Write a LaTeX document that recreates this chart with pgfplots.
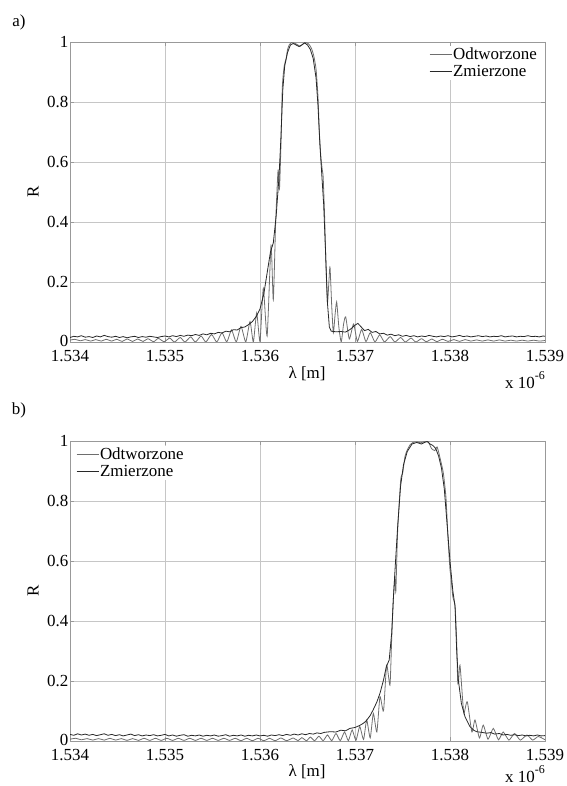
\documentclass[border=0pt]{standalone}
\usepackage{fontspec}
\setmainfont{Liberation Serif}
\usepackage{pgfplots}
\pgfplotsset{compat=1.18}
\definecolor{rec}{RGB}{110,110,110}
\definecolor{mea}{RGB}{40,40,40}
\newcommand{\fs}{\fontsize{17}{20}\selectfont}
\pgfplotsset{
  mystyle/.style={
    scale only axis, width=475bp, height=300bp, anchor=south west,
    xmin=1534, xmax=1539, ymin=0, ymax=1,
    xtick={1534,1535,1536,1537,1538,1539},
    xticklabels={1.534,1.535,1.536,1.537,1.538,1.539},
    ytick={0,0.2,0.4,0.6,0.8,1},
    yticklabels={\raisebox{1bp}[\height][0pt]{0},0.2,0.4,0.6,0.8,1},
    grid=major, major grid style={gray!45, line width=0.6bp},
    axis line style={gray!80, line width=0.7bp},
    tick style={gray!80}, tick align=inside, major tick length=4bp,
    tick label style={font=\fs, text=black},
    yticklabel style={inner xsep=1.5bp, inner ysep=0bp},
    xticklabel style={inner ysep=0bp, yshift=-8bp},
    legend cell align=left,
    legend image code/.code={\draw[#1] (0bp,0bp) -- (22bp,0bp);},
    every axis plot/.append style={line width=0.8bp},
  }
}
\begin{document}
\begin{tikzpicture}
\useasboundingbox (0,0) rectangle (567bp,786bp);
\begin{axis}[mystyle, at={(70bp,444bp)},
  legend style={at={(1,1)}, anchor=north east, xshift=-6bp, yshift=-4bp, draw=none, fill=white, font=\fs, inner sep=1bp, row sep=2bp,
    /tikz/every even column/.append style={column sep=0bp}, nodes={inner xsep=1bp, inner ysep=1bp}}]
\addplot[rec, smooth, tension=0.35] coordinates {
(1534.00,0.006)(1534.05,0.009)(1534.11,0.004)(1534.16,0.008)(1534.22,0.003)(1534.27,0.008)(1534.33,0.003)(1534.38,0.009)
(1534.44,0.003)(1534.49,0.009)(1534.55,0.002)(1534.60,0.010)(1534.66,0.002)(1534.71,0.010)(1534.77,0.002)(1534.82,0.011)
(1534.88,0.001)(1534.93,0.012)(1534.99,0.001)(1535.05,0.013)(1535.10,0.000)(1535.16,0.015)(1535.21,0.000)(1535.27,0.017)
(1535.32,0.000)(1535.38,0.020)(1535.43,0.000)(1535.49,0.025)(1535.545,0.000)(1535.60,0.031)(1535.65,0.000)(1535.70,0.040)
(1535.75,0.000)(1535.80,0.052)(1535.85,0.000)(1535.895,0.068)(1535.93,0.000)(1535.965,0.097)(1536.00,0.002)(1536.035,0.179)
(1536.075,0.02)(1536.116,0.323)(1536.14,0.14)(1536.165,0.40)(1536.19,0.573)(1536.205,0.51)(1536.22,0.65)(1536.235,0.85)
(1536.255,0.92)(1536.275,0.945)(1536.29,0.975)(1536.31,0.992)(1536.33,0.998)(1536.35,0.997)(1536.37,0.995)(1536.40,0.99)
(1536.42,0.985)(1536.45,0.993)(1536.48,0.998)(1536.51,0.994)(1536.54,0.98)(1536.565,0.955)(1536.59,0.91)(1536.61,0.82)
(1536.625,0.70)(1536.64,0.62)(1536.655,0.575)(1536.665,0.55)(1536.68,0.42)(1536.695,0.25)(1536.71,0.13)(1536.725,0.2)
(1536.737,0.25)(1536.755,0.12)(1536.772,0.03)(1536.79,0.09)(1536.807,0.134)(1536.83,0.05)(1536.855,0.000)(1536.88,0.06)
(1536.902,0.084)(1536.94,0.01)(1536.985,0.06)(1537.025,0.002)(1537.07,0.042)(1537.115,0.001)(1537.16,0.031)(1537.21,0.000)
(1537.26,0.024)(1537.31,0.000)(1537.37,0.018)(1537.42,0.000)(1537.48,0.015)(1537.53,0.000)(1537.59,0.013)(1537.64,0.000)
(1537.70,0.011)(1537.75,0.001)(1537.81,0.010)(1537.86,0.001)(1537.92,0.009)(1537.98,0.002)(1538.04,0.008)(1538.10,0.002)
(1538.16,0.008)(1538.22,0.003)(1538.28,0.007)(1538.34,0.003)(1538.40,0.007)(1538.46,0.003)(1538.52,0.007)(1538.58,0.003)
(1538.64,0.006)(1538.70,0.003)(1538.76,0.006)(1538.82,0.003)(1538.88,0.006)(1538.94,0.003)(1539.00,0.005)
};
\addlegendentry{Odtworzone}
\addplot[mea] coordinates {
(1534.00,0.015)(1534.04,0.019)(1534.08,0.017)(1534.12,0.021)(1534.16,0.016)(1534.20,0.018)(1534.24,0.015)(1534.28,0.020)
(1534.32,0.017)(1534.36,0.022)(1534.40,0.018)(1534.44,0.016)(1534.48,0.019)(1534.52,0.015)(1534.56,0.018)(1534.60,0.014)
(1534.64,0.017)(1534.68,0.019)(1534.72,0.015)(1534.76,0.018)(1534.80,0.016)(1534.84,0.019)(1534.88,0.017)(1534.92,0.015)
(1534.96,0.018)(1535.00,0.020)(1535.04,0.017)(1535.08,0.021)(1535.12,0.018)(1535.16,0.022)(1535.20,0.019)(1535.24,0.023)
(1535.28,0.021)(1535.32,0.025)(1535.36,0.022)(1535.40,0.027)(1535.44,0.024)(1535.48,0.029)(1535.52,0.027)(1535.56,0.032)
(1535.60,0.030)(1535.64,0.036)(1535.68,0.034)(1535.72,0.041)(1535.76,0.040)(1535.80,0.048)(1535.84,0.050)(1535.88,0.058)
(1535.92,0.068)(1535.96,0.085)(1536.00,0.11)(1536.04,0.16)(1536.08,0.24)(1536.11,0.30)(1536.14,0.33)(1536.17,0.42)
(1536.20,0.55)(1536.22,0.68)(1536.24,0.84)(1536.26,0.92)(1536.29,0.965)(1536.32,0.99)(1536.35,0.995)(1536.38,0.99)
(1536.41,0.985)(1536.44,0.99)(1536.47,0.997)(1536.50,0.99)(1536.53,0.975)(1536.56,0.945)(1536.59,0.88)(1536.61,0.79)
(1536.63,0.66)(1536.65,0.56)(1536.67,0.46)(1536.69,0.30)(1536.71,0.13)(1536.73,0.05)(1536.75,0.036)(1536.80,0.034)
(1536.85,0.035)(1536.90,0.033)(1536.95,0.042)(1537.00,0.056)(1537.03,0.062)(1537.06,0.052)(1537.10,0.038)(1537.14,0.042)
(1537.18,0.032)(1537.22,0.035)(1537.26,0.027)(1537.30,0.029)(1537.34,0.023)(1537.38,0.026)(1537.42,0.021)(1537.46,0.024)
(1537.50,0.019)(1537.54,0.022)(1537.58,0.018)(1537.62,0.021)(1537.66,0.017)(1537.70,0.020)(1537.74,0.018)(1537.78,0.022)
(1537.82,0.019)(1537.86,0.017)(1537.90,0.020)(1537.94,0.018)(1537.98,0.021)(1538.02,0.017)(1538.06,0.019)(1538.10,0.022)
(1538.14,0.018)(1538.18,0.020)(1538.22,0.017)(1538.26,0.019)(1538.30,0.021)(1538.34,0.018)(1538.38,0.020)(1538.42,0.017)
(1538.46,0.019)(1538.50,0.018)(1538.54,0.021)(1538.58,0.017)(1538.62,0.019)(1538.66,0.020)(1538.70,0.017)(1538.74,0.019)
(1538.78,0.018)(1538.82,0.021)(1538.86,0.018)(1538.90,0.019)(1538.94,0.017)(1538.98,0.020)(1539.00,0.019)
};
\addlegendentry{Zmierzone}
\end{axis}
\begin{axis}[mystyle, at={(70bp,45bp)},
  legend style={at={(0,1)}, anchor=north west, xshift=5bp, yshift=-5bp, draw=none, fill=white, font=\fs, inner sep=1bp, row sep=2bp,
    /tikz/every even column/.append style={column sep=0bp}, nodes={inner xsep=1bp, inner ysep=1bp}}]
\addplot[rec, smooth, tension=0.35] coordinates {
(1534.00,0.006)(1534.06,0.009)(1534.12,0.004)(1534.18,0.008)(1534.24,0.003)(1534.30,0.008)(1534.36,0.003)(1534.42,0.009)
(1534.48,0.003)(1534.54,0.008)(1534.60,0.002)(1534.66,0.008)(1534.72,0.002)(1534.78,0.009)(1534.84,0.002)(1534.90,0.009)
(1534.96,0.002)(1535.02,0.009)(1535.08,0.002)(1535.14,0.009)(1535.20,0.002)(1535.26,0.009)(1535.32,0.002)(1535.38,0.009)
(1535.44,0.002)(1535.50,0.009)(1535.56,0.002)(1535.62,0.009)(1535.68,0.002)(1535.74,0.009)(1535.80,0.001)(1535.86,0.009)
(1535.92,0.001)(1535.98,0.009)(1536.04,0.001)(1536.10,0.009)(1536.16,0.001)(1536.22,0.010)(1536.28,0.001)(1536.35,0.010)
(1536.40,0.001)(1536.44,0.011)(1536.49,0.001)(1536.53,0.013)(1536.575,0.001)(1536.62,0.016)(1536.665,0.001)(1536.71,0.020)
(1536.755,0.001)(1536.80,0.025)(1536.845,0.001)(1536.89,0.030)(1536.93,0.001)(1536.97,0.037)(1537.01,0.002)(1537.05,0.048)
(1537.09,0.005)(1537.123,0.07)(1537.16,0.01)(1537.193,0.092)(1537.23,0.03)(1537.263,0.148)(1537.30,0.10)(1537.333,0.253)
(1537.368,0.186)(1537.385,0.33)(1537.403,0.47)(1537.42,0.547)(1537.43,0.50)(1537.449,0.70)(1537.481,0.87)(1537.502,0.893)
(1537.526,0.948)(1537.55,0.97)(1537.579,0.987)(1537.61,0.995)(1537.649,0.997)(1537.69,0.994)(1537.72,0.997)(1537.77,0.998)
(1537.805,0.975)(1537.84,0.968)(1537.865,0.98)(1537.90,0.937)(1537.93,0.893)(1537.958,0.81)(1537.98,0.67)(1538.00,0.57)
(1538.01,0.547)(1538.03,0.48)(1538.053,0.45)(1538.07,0.337)(1538.08,0.203)(1538.088,0.192)(1538.105,0.253)(1538.133,0.137)
(1538.147,0.092)(1538.182,0.131)(1538.23,0.03)(1538.263,0.07)(1538.31,0.01)(1538.35,0.053)(1538.40,0.006)(1538.456,0.042)
(1538.51,0.004)(1538.56,0.03)(1538.62,0.003)(1538.68,0.025)(1538.74,0.003)(1538.81,0.02)(1538.87,0.003)(1538.93,0.015)
(1539.00,0.004)
};
\addlegendentry{Odtworzone}
\addplot[mea] coordinates {
(1534.00,0.022)(1534.04,0.019)(1534.08,0.024)(1534.12,0.020)(1534.16,0.023)(1534.20,0.019)(1534.24,0.022)(1534.28,0.018)
(1534.32,0.021)(1534.36,0.024)(1534.40,0.019)(1534.44,0.022)(1534.48,0.018)(1534.52,0.021)(1534.56,0.017)(1534.60,0.020)
(1534.64,0.023)(1534.68,0.018)(1534.72,0.021)(1534.76,0.017)(1534.80,0.020)(1534.84,0.018)(1534.88,0.021)(1534.92,0.017)
(1534.96,0.019)(1535.00,0.022)(1535.04,0.017)(1535.08,0.020)(1535.12,0.016)(1535.16,0.019)(1535.20,0.021)(1535.24,0.016)
(1535.28,0.019)(1535.32,0.017)(1535.36,0.020)(1535.40,0.016)(1535.44,0.019)(1535.48,0.017)(1535.52,0.020)(1535.56,0.016)
(1535.60,0.018)(1535.64,0.021)(1535.68,0.016)(1535.72,0.019)(1535.76,0.017)(1535.80,0.020)(1535.84,0.016)(1535.88,0.019)
(1535.92,0.017)(1535.96,0.020)(1536.00,0.017)(1536.04,0.019)(1536.08,0.016)(1536.12,0.020)(1536.16,0.018)(1536.20,0.021)
(1536.24,0.018)(1536.28,0.022)(1536.32,0.019)(1536.36,0.023)(1536.40,0.020)(1536.44,0.024)(1536.48,0.021)(1536.52,0.025)
(1536.56,0.023)(1536.60,0.027)(1536.64,0.025)(1536.68,0.029)(1536.74,0.031)(1536.80,0.030)(1536.85,0.036)(1536.90,0.034)
(1536.947,0.042)(1537.00,0.045)(1537.05,0.052)(1537.088,0.059)(1537.12,0.068)(1537.16,0.085)(1537.19,0.103)(1537.23,0.13)
(1537.263,0.159)(1537.30,0.203)(1537.33,0.248)(1537.36,0.27)(1537.386,0.359)(1537.403,0.47)(1537.425,0.59)(1537.45,0.72)
(1537.48,0.85)(1537.51,0.92)(1537.55,0.965)(1537.60,0.99)(1537.65,0.995)(1537.70,0.99)(1537.73,0.995)(1537.76,0.998)
(1537.79,0.99)(1537.82,0.985)(1537.85,0.975)(1537.88,0.95)(1537.91,0.91)(1537.94,0.84)(1537.97,0.72)(1538.00,0.60)
(1538.03,0.50)(1538.053,0.45)(1538.07,0.303)(1538.088,0.203)(1538.12,0.125)(1538.158,0.081)(1538.21,0.048)(1538.25,0.036)
(1538.28,0.031)(1538.33,0.029)(1538.386,0.026)(1538.43,0.028)(1538.47,0.023)(1538.52,0.025)(1538.56,0.020)(1538.60,0.022)
(1538.64,0.019)(1538.68,0.021)(1538.72,0.018)(1538.76,0.020)(1538.80,0.017)(1538.84,0.019)(1538.88,0.017)(1538.92,0.020)
(1538.96,0.017)(1539.00,0.018)
};
\addlegendentry{Zmierzone}
\end{axis}
\node[font=\fs] at (19bp,764bp) {a)};
\node[font=\fs] at (19bp,376bp) {b)};
\node[font=\fs, rotate=90] at (33bp,594bp) {R};
\node[font=\fs, rotate=90] at (33bp,195bp) {R};
\node[font=\fs] at (307bp,412bp) {λ [m]};
\node[font=\fs] at (307bp,14bp) {λ [m]};
\node[font=\fs] at (525bp,406bp) {x 10\raisebox{0.55em}{\fontsize{12}{12}\selectfont -6}};
\node[font=\fs] at (525bp,12bp) {x 10\raisebox{0.55em}{\fontsize{12}{12}\selectfont -6}};
\end{tikzpicture}
\end{document}
